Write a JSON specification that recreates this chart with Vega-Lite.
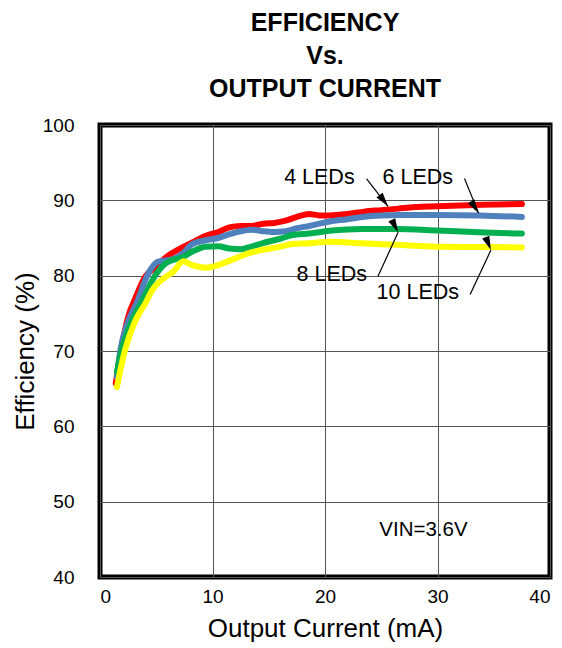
{
  "$schema": "https://vega.github.io/schema/vega-lite/v6.json",
  "autosize": "none",
  "padding": {"left": 100, "top": 125, "right": 12, "bottom": 71},
  "width": 450,
  "height": 452,
  "background": "white",
  "title": {
    "text": ["EFFICIENCY", "Vs.", "OUTPUT CURRENT"],
    "fontSize": 25,
    "lineHeight": 33,
    "font": "Liberation Sans",
    "fontWeight": "bold",
    "color": "black",
    "anchor": "middle",
    "offset": 14
  },
  "datasets": {
    "curves": [
      {"series": "4 LEDs", "current": 1.4, "efficiency": 65.7},
      {"series": "4 LEDs", "current": 1.8, "efficiency": 69.5},
      {"series": "4 LEDs", "current": 2.5, "efficiency": 74.5},
      {"series": "4 LEDs", "current": 3.2, "efficiency": 77.2},
      {"series": "4 LEDs", "current": 4.0, "efficiency": 79.8},
      {"series": "4 LEDs", "current": 5.0, "efficiency": 81.2},
      {"series": "4 LEDs", "current": 6.0, "efficiency": 82.6},
      {"series": "4 LEDs", "current": 7.0, "efficiency": 83.5},
      {"series": "4 LEDs", "current": 8.2, "efficiency": 84.4},
      {"series": "4 LEDs", "current": 9.4, "efficiency": 85.3},
      {"series": "4 LEDs", "current": 10.5, "efficiency": 85.8},
      {"series": "4 LEDs", "current": 11.5, "efficiency": 86.4},
      {"series": "4 LEDs", "current": 12.5, "efficiency": 86.6},
      {"series": "4 LEDs", "current": 13.5, "efficiency": 86.6},
      {"series": "4 LEDs", "current": 14.5, "efficiency": 86.9},
      {"series": "4 LEDs", "current": 15.5, "efficiency": 87.0},
      {"series": "4 LEDs", "current": 16.5, "efficiency": 87.3},
      {"series": "4 LEDs", "current": 17.5, "efficiency": 87.8},
      {"series": "4 LEDs", "current": 18.6, "efficiency": 88.2},
      {"series": "4 LEDs", "current": 19.5, "efficiency": 88.0},
      {"series": "4 LEDs", "current": 20.5, "efficiency": 88.0},
      {"series": "4 LEDs", "current": 22.0, "efficiency": 88.2},
      {"series": "4 LEDs", "current": 23.5, "efficiency": 88.5},
      {"series": "4 LEDs", "current": 25.0, "efficiency": 88.7},
      {"series": "4 LEDs", "current": 26.5, "efficiency": 88.9},
      {"series": "4 LEDs", "current": 28.0, "efficiency": 89.1},
      {"series": "4 LEDs", "current": 30.0, "efficiency": 89.2},
      {"series": "4 LEDs", "current": 32.0, "efficiency": 89.3},
      {"series": "4 LEDs", "current": 34.0, "efficiency": 89.4},
      {"series": "4 LEDs", "current": 37.5, "efficiency": 89.5},
      {"series": "6 LEDs", "current": 1.5, "efficiency": 66.5},
      {"series": "6 LEDs", "current": 1.8, "efficiency": 70.0},
      {"series": "6 LEDs", "current": 2.5, "efficiency": 73.9},
      {"series": "6 LEDs", "current": 3.3, "efficiency": 76.5},
      {"series": "6 LEDs", "current": 4.2, "efficiency": 80.0},
      {"series": "6 LEDs", "current": 5.1, "efficiency": 81.8},
      {"series": "6 LEDs", "current": 5.7, "efficiency": 82.0},
      {"series": "6 LEDs", "current": 6.5, "efficiency": 82.2},
      {"series": "6 LEDs", "current": 7.4, "efficiency": 83.0},
      {"series": "6 LEDs", "current": 8.2, "efficiency": 84.2},
      {"series": "6 LEDs", "current": 9.4, "efficiency": 84.7},
      {"series": "6 LEDs", "current": 10.5, "efficiency": 85.0},
      {"series": "6 LEDs", "current": 11.5, "efficiency": 85.5},
      {"series": "6 LEDs", "current": 12.5, "efficiency": 85.9},
      {"series": "6 LEDs", "current": 13.5, "efficiency": 86.1},
      {"series": "6 LEDs", "current": 14.5, "efficiency": 85.9},
      {"series": "6 LEDs", "current": 15.5, "efficiency": 85.8},
      {"series": "6 LEDs", "current": 16.5, "efficiency": 85.9},
      {"series": "6 LEDs", "current": 17.5, "efficiency": 86.3},
      {"series": "6 LEDs", "current": 18.6, "efficiency": 86.6},
      {"series": "6 LEDs", "current": 20.4, "efficiency": 87.2},
      {"series": "6 LEDs", "current": 22.0, "efficiency": 87.5},
      {"series": "6 LEDs", "current": 23.3, "efficiency": 87.8},
      {"series": "6 LEDs", "current": 25.0, "efficiency": 88.0},
      {"series": "6 LEDs", "current": 26.5, "efficiency": 88.05},
      {"series": "6 LEDs", "current": 30.0, "efficiency": 88.05},
      {"series": "6 LEDs", "current": 33.7, "efficiency": 88.0},
      {"series": "6 LEDs", "current": 37.5, "efficiency": 87.8},
      {"series": "8 LEDs", "current": 1.5, "efficiency": 67.2},
      {"series": "8 LEDs", "current": 1.9, "efficiency": 70.0},
      {"series": "8 LEDs", "current": 2.8, "efficiency": 73.9},
      {"series": "8 LEDs", "current": 3.7, "efficiency": 76.5},
      {"series": "8 LEDs", "current": 4.9, "efficiency": 80.0},
      {"series": "8 LEDs", "current": 5.9, "efficiency": 81.7},
      {"series": "8 LEDs", "current": 7.4, "efficiency": 82.5},
      {"series": "8 LEDs", "current": 8.2, "efficiency": 83.2},
      {"series": "8 LEDs", "current": 9.4, "efficiency": 83.85},
      {"series": "8 LEDs", "current": 10.5, "efficiency": 83.9},
      {"series": "8 LEDs", "current": 11.5, "efficiency": 83.6},
      {"series": "8 LEDs", "current": 12.5, "efficiency": 83.5},
      {"series": "8 LEDs", "current": 13.3, "efficiency": 83.8},
      {"series": "8 LEDs", "current": 14.4, "efficiency": 84.3},
      {"series": "8 LEDs", "current": 16.0, "efficiency": 84.9},
      {"series": "8 LEDs", "current": 17.1, "efficiency": 85.4},
      {"series": "8 LEDs", "current": 18.6, "efficiency": 85.6},
      {"series": "8 LEDs", "current": 20.4, "efficiency": 85.95},
      {"series": "8 LEDs", "current": 23.3, "efficiency": 86.2},
      {"series": "8 LEDs", "current": 26.3, "efficiency": 86.2},
      {"series": "8 LEDs", "current": 30.0, "efficiency": 86.0},
      {"series": "8 LEDs", "current": 33.7, "efficiency": 85.75},
      {"series": "8 LEDs", "current": 37.5, "efficiency": 85.6},
      {"series": "10 LEDs", "current": 1.5, "efficiency": 65.2},
      {"series": "10 LEDs", "current": 2.2, "efficiency": 70.0},
      {"series": "10 LEDs", "current": 3.1, "efficiency": 73.9},
      {"series": "10 LEDs", "current": 4.1, "efficiency": 76.5},
      {"series": "10 LEDs", "current": 4.6, "efficiency": 78.0},
      {"series": "10 LEDs", "current": 5.6, "efficiency": 79.6},
      {"series": "10 LEDs", "current": 6.5, "efficiency": 80.5},
      {"series": "10 LEDs", "current": 7.4, "efficiency": 81.9},
      {"series": "10 LEDs", "current": 8.2, "efficiency": 81.4},
      {"series": "10 LEDs", "current": 9.4, "efficiency": 81.06},
      {"series": "10 LEDs", "current": 10.3, "efficiency": 81.3},
      {"series": "10 LEDs", "current": 11.2, "efficiency": 81.8},
      {"series": "10 LEDs", "current": 12.05, "efficiency": 82.3},
      {"series": "10 LEDs", "current": 13.25, "efficiency": 83.0},
      {"series": "10 LEDs", "current": 14.4, "efficiency": 83.4},
      {"series": "10 LEDs", "current": 16.0, "efficiency": 83.85},
      {"series": "10 LEDs", "current": 17.1, "efficiency": 84.2},
      {"series": "10 LEDs", "current": 18.6, "efficiency": 84.3},
      {"series": "10 LEDs", "current": 20.4, "efficiency": 84.5},
      {"series": "10 LEDs", "current": 23.3, "efficiency": 84.3},
      {"series": "10 LEDs", "current": 26.3, "efficiency": 84.1},
      {"series": "10 LEDs", "current": 30.0, "efficiency": 83.85},
      {"series": "10 LEDs", "current": 33.7, "efficiency": 83.8},
      {"series": "10 LEDs", "current": 37.5, "efficiency": 83.75}
    ],
    "labels": [
      {"text": "4 LEDs", "current": 19.5, "efficiency": 92.9},
      {"text": "6 LEDs", "current": 28.25, "efficiency": 92.9},
      {"text": "8 LEDs", "current": 20.6, "efficiency": 80.1},
      {"text": "10 LEDs", "current": 28.25, "efficiency": 77.65}
    ],
    "notes": [
      {"text": "VIN=3.6V", "current": 28.75, "efficiency": 46.25}
    ],
    "arrows": [
      {"series": "4 LEDs", "current": 23.7, "efficiency": 92.85, "tip_current": 25.6, "tip_efficiency": 89.2},
      {"series": "6 LEDs", "current": 32.4, "efficiency": 92.9, "tip_current": 33.65, "tip_efficiency": 88.3},
      {"series": "8 LEDs", "current": 24.7, "efficiency": 79.9, "tip_current": 26.5, "tip_efficiency": 85.75},
      {"series": "10 LEDs", "current": 32.9, "efficiency": 77.5, "tip_current": 34.75, "tip_efficiency": 83.4}
    ]
  },
  "encoding": {
    "x": {
      "field": "current",
      "type": "quantitative",
      "scale": {"domain": [0, 40], "nice": false},
      "axis": {"values": [0, 10, 20, 30, 40], "title": "Output Current (mA)", "labelPadding": 10, "titlePadding": 9}
    },
    "y": {
      "field": "efficiency",
      "type": "quantitative",
      "scale": {"domain": [40, 100], "nice": false},
      "axis": {"values": [40, 50, 60, 70, 80, 90, 100], "title": "Efficiency (%)", "labelPadding": 26, "titlePadding": 4}
    }
  },
  "layer": [
    {
      "data": {"name": "curves"},
      "mark": {"type": "line", "strokeWidth": 6, "strokeCap": "round", "strokeJoin": "round", "interpolate": "monotone"},
      "encoding": {
        "color": {
          "field": "series",
          "type": "nominal",
          "scale": {
            "domain": ["4 LEDs", "6 LEDs", "8 LEDs", "10 LEDs"],
            "range": ["#ff0000", "#4f81bd", "#00b050", "#ffff00"]
          },
          "legend": null
        },
        "order": {"field": "current", "type": "quantitative"}
      }
    },
    {
      "data": {"name": "arrows"},
      "mark": {"type": "rule", "color": "black", "strokeWidth": 1.2},
      "encoding": {
        "x2": {"field": "tip_current"},
        "y2": {"field": "tip_efficiency"}
      }
    },
    {
      "data": {"name": "arrows"},
      "mark": {
        "type": "point",
        "filled": true,
        "color": "black",
        "opacity": 1,
        "size": 196,
        "shape": "M0,0L0.55,2L-0.55,2Z"
      },
      "encoding": {
        "x": {"field": "tip_current", "type": "quantitative"},
        "y": {"field": "tip_efficiency", "type": "quantitative"},
        "angle": {
          "field": "series",
          "type": "nominal",
          "scale": {
            "domain": ["4 LEDs", "6 LEDs", "8 LEDs", "10 LEDs"],
            "range": [143, 158, 25, 25]
          },
          "legend": null
        }
      }
    },
    {
      "data": {"name": "labels"},
      "mark": {"type": "text", "font": "Liberation Sans", "fontSize": 21.5, "color": "black", "align": "center", "baseline": "middle"},
      "encoding": {
        "text": {"field": "text", "type": "nominal"}
      }
    },
    {
      "data": {"name": "notes"},
      "mark": {"type": "text", "font": "Liberation Sans", "fontSize": 20.5, "color": "black", "align": "center", "baseline": "middle"},
      "encoding": {
        "text": {"field": "text", "type": "nominal"}
      }
    }
  ],
  "config": {
    "view": {"stroke": "black", "strokeWidth": 5},
    "axis": {
      "domain": false,
      "ticks": false,
      "grid": true,
      "gridColor": "#555555",
      "gridWidth": 1,
      "gridOpacity": 1,
      "labelFont": "Liberation Sans",
      "labelFontSize": 19,
      "labelColor": "black",
      "titleFont": "Liberation Sans",
      "titleFontSize": 26,
      "titleFontWeight": "normal",
      "titleColor": "black"
    }
  }
}
